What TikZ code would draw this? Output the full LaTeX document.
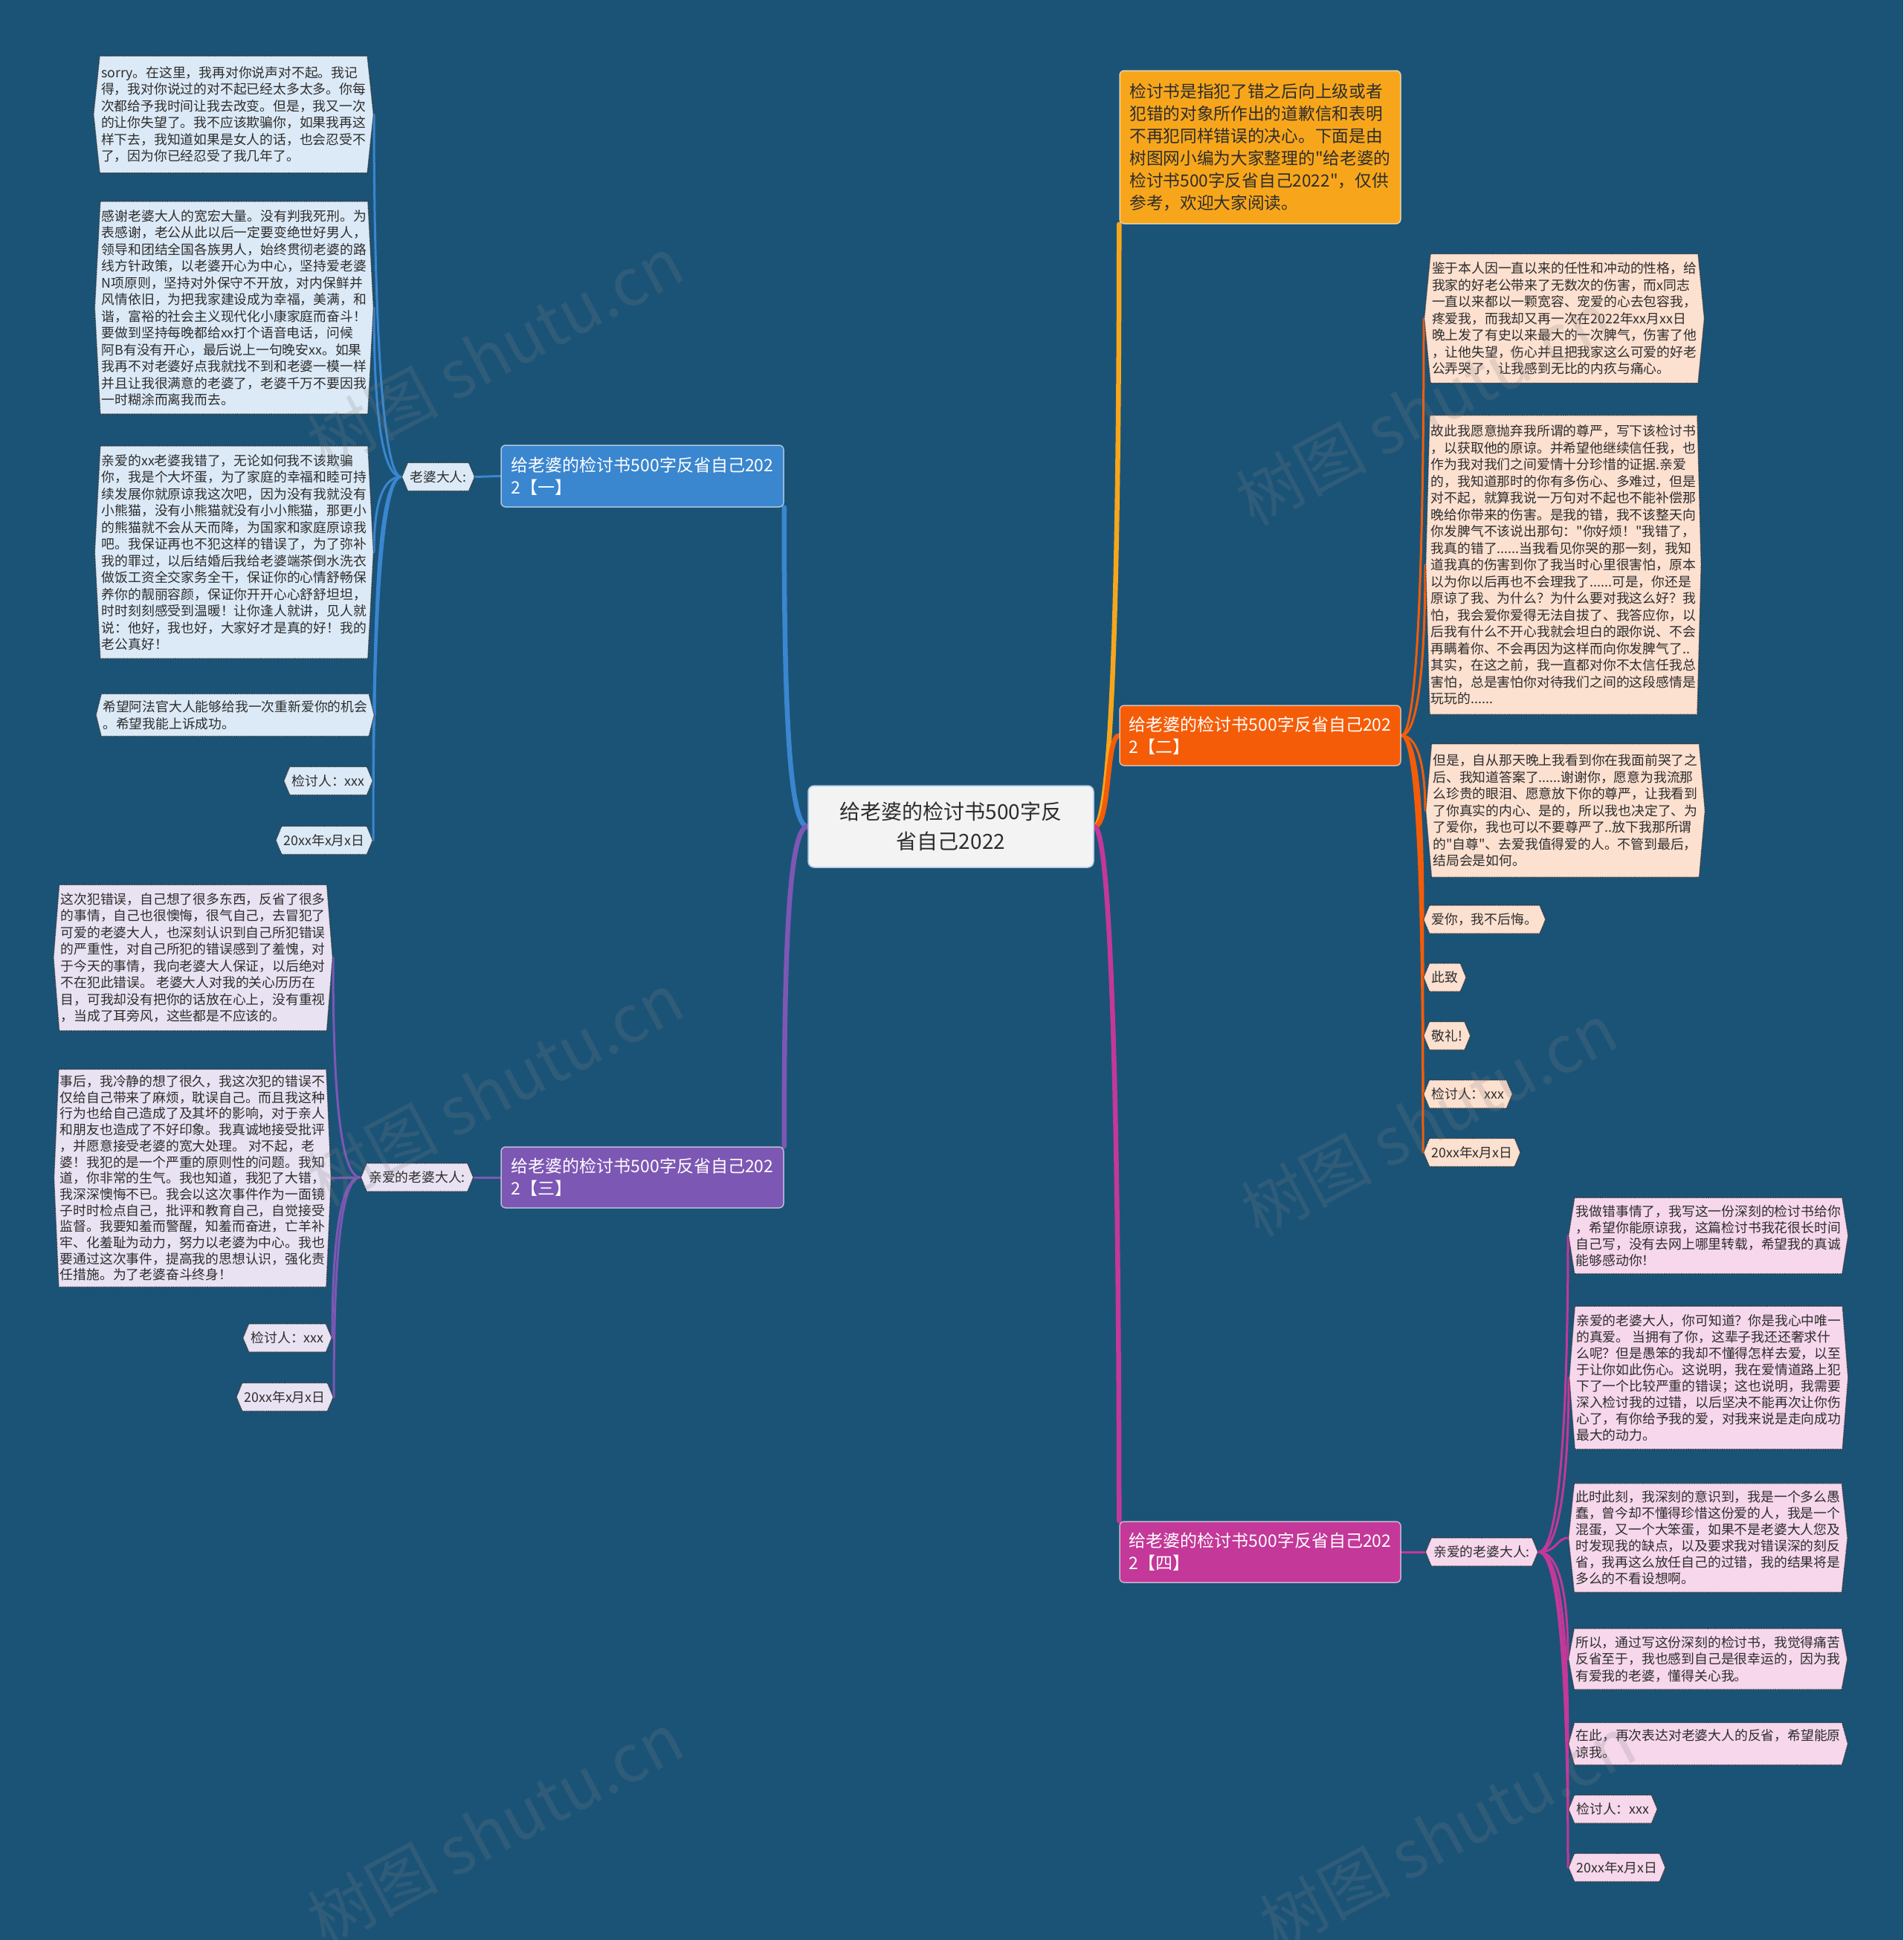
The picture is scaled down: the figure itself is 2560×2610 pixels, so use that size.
\documentclass[tikz,border=0pt]{standalone}
\usepackage{fontspec}
\setmainfont{Noto Sans CJK SC}[Ligatures=TeXOff]
\usetikzlibrary{shapes.symbols}
\pgfdeclarelayer{back}\pgfdeclarelayer{lines}
\pgfsetlayers{back,lines,main}
\definecolor{bg}{RGB}{27,83,119}
\definecolor{cblue}{RGB}{58,134,207}
\definecolor{lblue}{RGB}{220,234,247}
\definecolor{cyel}{RGB}{247,166,27}
\definecolor{cora}{RGB}{245,92,8}
\definecolor{lora}{RGB}{252,224,208}
\definecolor{cpur}{RGB}{125,87,180}
\definecolor{lpur}{RGB}{232,226,242}
\definecolor{cmag}{RGB}{195,56,152}
\definecolor{lmag}{RGB}{246,215,236}
\definecolor{ctr}{RGB}{243,243,243}
\definecolor{cbord}{RGB}{170,200,225}
\definecolor{txt}{RGB}{45,45,45}
\begin{document}
\begin{tikzpicture}[x=1pt,y=-1pt,
  leaf/.style={signal, signal to=east and west, signal pointer angle=#1, draw=txt, densely dotted, line width=1.3pt, text=txt, align=left, inner xsep=2pt, inner ysep=11pt, font=\fontsize{17.8}{22.5}\selectfont},
  small/.style={leaf=135, minimum height=38pt, inner ysep=6pt, inner xsep=3pt},
  br/.style={rectangle, rounded corners=6pt, fill=#1, draw=white, draw opacity=0.6, line width=1.5pt, text=white, align=left, minimum width=380pt, minimum height=83pt, inner xsep=10pt, font=\fontsize{23}{30}\selectfont},
  mainc/.style={line width=6.5pt, line cap=round},
  subc/.style={line width=3pt, line cap=round},
  wm/.style={rotate=28, text=gray, opacity=0.2, font=\fontsize{88}{88}\selectfont}
]
\begin{pgfonlayer}{back}
\fill[bg] (0,0) rectangle (2560,2610);
\end{pgfonlayer}
\useasboundingbox (0,0) rectangle (2560,2610);

% centre
\node[rectangle, rounded corners=8pt, fill=ctr, draw=cbord, line width=1.5pt, text=txt, align=center, minimum width=384pt, minimum height=110pt, font=\fontsize{28}{40}\selectfont] (c) at (1279,1112) {给老婆的检讨书500字反\\省自己2022};

% branches
\node[br=cblue] (b1) at (864,640.5) {给老婆的检讨书500字反省自己202\\2【一】};
\node[br=cora, minimum width=378pt, minimum height=81pt] (b2) at (1695,989.5) {给老婆的检讨书500字反省自己202\\2【二】};
\node[br=cpur, minimum height=82pt] (b3) at (864,1584) {给老婆的检讨书500字反省自己202\\2【三】};
\node[br=cmag, minimum width=378pt, minimum height=82pt] (b4) at (1695,2088) {给老婆的检讨书500字反省自己202\\2【四】};
\node[rectangle, rounded corners=6pt, fill=cyel, draw=white, draw opacity=0.6, line width=1.5pt, text=txt, align=left, minimum width=378pt, minimum height=206pt, font=\fontsize{22.7}{30}\selectfont] (sum) at (1695,198) {检讨书是指犯了错之后向上级或者\\犯错的对象所作出的道歉信和表明\\不再犯同样错误的决心。下面是由\\树图网小编为大家整理的"给老婆的\\检讨书500字反省自己2022"，仅供\\参考，欢迎大家阅读。};

% labels
\node[small, fill=lblue] (lab1) at (589.5,641.5) {老婆大人:};
\node[small, fill=lpur] (lab3) at (561,1584) {亲爱的老婆大人:};
\node[small, fill=lmag] (lab4) at (1993,2088) {亲爱的老婆大人:};

% branch 1 leaves
\node[leaf=168, fill=lblue, anchor=east, inner ysep=14pt] (L1) at (503,154) {sorry。在这里，我再对你说声对不起。我记\\得，我对你说过的对不起已经太多太多。你每\\次都给予我时间让我去改变。但是，我又一次\\的让你失望了。我不应该欺骗你，如果我再这\\样下去，我知道如果是女人的话，也会忍受不\\了，因为你已经忍受了我几年了。};
\node[leaf=174, fill=lblue, anchor=east] (L2) at (503,414) {感谢老婆大人的宽宏大量。没有判我死刑。为\\表感谢，老公从此以后一定要变绝世好男人，\\领导和团结全国各族男人，始终贯彻老婆的路\\线方针政策，以老婆开心为中心，坚持爱老婆\\N项原则，坚持对外保守不开放，对内保鲜并\\风情依旧，为把我家建设成为幸福，美满，和\\谐，富裕的社会主义现代化小康家庭而奋斗！\\要做到坚持每晚都给xx打个语音电话，问候\\阿B有没有开心，最后说上一句晚安xx。如果\\我再不对老婆好点我就找不到和老婆一模一样\\并且让我很满意的老婆了，老婆千万不要因我\\一时糊涂而离我而去。};
\node[leaf=174, fill=lblue, anchor=east] (L3) at (503,743) {亲爱的xx老婆我错了，无论如何我不该欺骗\\你，我是个大坏蛋，为了家庭的幸福和睦可持\\续发展你就原谅我这次吧，因为没有我就没有\\小熊猫，没有小熊猫就没有小小熊猫，那更小\\的熊猫就不会从天而降，为国家和家庭原谅我\\吧。我保证再也不犯这样的错误了，为了弥补\\我的罪过，以后结婚后我给老婆端茶倒水洗衣\\做饭工资全交家务全干，保证你的心情舒畅保\\养你的靓丽容颜，保证你开开心心舒舒坦坦，\\时时刻刻感受到温暖！让你逢人就讲，见人就\\说：他好，我也好，大家好才是真的好！我的\\老公真好！};
\node[leaf=152, fill=lblue, anchor=east, inner ysep=9pt] (L4) at (504,962) {希望阿法官大人能够给我一次重新爱你的机会\\。希望我能上诉成功。};
\node[small, fill=lblue, anchor=east] (L5) at (502,1050.5) {检讨人：xxx};
\node[small, fill=lblue, anchor=east] (L6) at (502,1130.5) {20xx年x月x日};

% branch 2 leaves
\node[leaf=169, fill=lora, anchor=west] (R1) at (1915,428.5) {鉴于本人因一直以来的任性和冲动的性格，给\\我家的好老公带来了无数次的伤害，而x同志\\一直以来都以一颗宽容、宠爱的心去包容我，\\疼爱我，而我却又再一次在2022年xx月xx日\\晚上发了有史以来最大的一次脾气，伤害了他\\，让他失望，伤心并且把我家这么可爱的好老\\公弄哭了，让我感到无比的内疚与痛心。};
\node[leaf=177, fill=lora, anchor=west, inner ysep=13pt] (R2) at (1917,760) {故此我愿意抛弃我所谓的尊严，写下该检讨书\\，以获取他的原谅。并希望他继续信任我，也\\作为我对我们之间爱情十分珍惜的证据.亲爱\\的，我知道那时的你有多伤心、多难过，但是\\对不起，就算我说一万句对不起也不能补偿那\\晚给你带来的伤害。是我的错，我不该整天向\\你发脾气不该说出那句："你好烦！"我错了，\\我真的错了......当我看见你哭的那一刻，我知\\道我真的伤害到你了我当时心里很害怕，原本\\以为你以后再也不会理我了......可是，你还是\\原谅了我、为什么？为什么要对我这么好？我\\怕，我会爱你爱得无法自拔了、我答应你，以\\后我有什么不开心我就会坦白的跟你说、不会\\再瞒着你、不会再因为这样而向你发脾气了..\\其实，在这之前，我一直都对你不太信任我总\\害怕，总是害怕你对待我们之间的这段感情是\\玩玩的......};
\node[leaf=170, fill=lora, anchor=west, inner ysep=14pt] (R3) at (1917,1090.5) {但是，自从那天晚上我看到你在我面前哭了之\\后、我知道答案了......谢谢你，愿意为我流那\\么珍贵的眼泪、愿意放下你的尊严，让我看到\\了你真实的内心、是的，所以我也决定了、为\\了爱你，我也可以不要尊严了..放下我那所谓\\的"自尊"、去爱我值得爱的人。不管到最后，\\结局会是如何。};
\node[small, fill=lora, anchor=west] (R4) at (1914,1237) {爱你，我不后悔。};
\node[small, fill=lora, anchor=west] (R5) at (1914,1315) {此致};
\node[small, fill=lora, anchor=west] (R6) at (1914,1393.5) {敬礼!};
\node[small, fill=lora, anchor=west] (R7) at (1914,1472) {检讨人：xxx};
\node[small, fill=lora, anchor=west] (R8) at (1914,1550.5) {20xx年x月x日};

% branch 3 leaves
\node[leaf=171, fill=lpur, anchor=east] (P1) at (448,1288.5) {这次犯错误，自己想了很多东西，反省了很多\\的事情，自己也很懊悔，很气自己，去冒犯了\\可爱的老婆大人，也深刻认识到自己所犯错误\\的严重性，对自己所犯的错误感到了羞愧，对\\于今天的事情，我向老婆大人保证，以后绝对\\不在犯此错误。 老婆大人对我的关心历历在\\目，可我却没有把你的话放在心上，没有重视\\，当成了耳旁风，这些都是不应该的。};
\node[leaf=175, fill=lpur, anchor=east, inner ysep=8pt, font=\fontsize{17.8}{21.7}\selectfont] (P2) at (446,1585) {事后，我冷静的想了很久，我这次犯的错误不\\仅给自己带来了麻烦，耽误自己。而且我这种\\行为也给自己造成了及其坏的影响，对于亲人\\和朋友也造成了不好印象。我真诚地接受批评\\，并愿意接受老婆的宽大处理。 对不起，老\\婆！我犯的是一个严重的原则性的问题。我知\\道，你非常的生气。我也知道，我犯了大错，\\我深深懊悔不已。我会以这次事件作为一面镜\\子时时检点自己，批评和教育自己，自觉接受\\监督。我要知羞而警醒，知羞而奋进，亡羊补\\牢、化羞耻为动力，努力以老婆为中心。我也\\要通过这次事件，提高我的思想认识，强化责\\任措施。为了老婆奋斗终身！};
\node[small, fill=lpur, anchor=east] (P3) at (447,1800) {检讨人：xxx};
\node[small, fill=lpur, anchor=east] (P4) at (449,1879.5) {20xx年x月x日};

% branch 4 leaves
\node[leaf=162, fill=lmag, anchor=west, inner ysep=10pt, font=\fontsize{17.8}{22}\selectfont] (M1) at (2109,1662.5) {我做错事情了，我写这一份深刻的检讨书给你\\，希望你能原谅我，这篇检讨书我花很长时间\\自己写，没有去网上哪里转载，希望我的真诚\\能够感动你！};
\node[leaf=171, fill=lmag, anchor=west, font=\fontsize{17.8}{22}\selectfont] (M2) at (2110,1853.5) {亲爱的老婆大人，你可知道？你是我心中唯一\\的真爱。 当拥有了你，这辈子我还还奢求什\\么呢？但是愚笨的我却不懂得怎样去爱，以至\\于让你如此伤心。这说明，我在爱情道路上犯\\下了一个比较严重的错误；这也说明，我需要\\深入检讨我的过错，以后坚决不能再次让你伤\\心了，有你给予我的爱，对我来说是走向成功\\最大的动力。};
\node[leaf=168, fill=lmag, anchor=west, inner ysep=10pt, font=\fontsize{17.8}{22}\selectfont] (M3) at (2109,2069) {此时此刻，我深刻的意识到，我是一个多么愚\\蠢，曾今却不懂得珍惜这份爱的人，我是一个\\混蛋，又一个大笨蛋，如果不是老婆大人您及\\时发现我的缺点，以及要求我对错误深的刻反\\省，我再这么放任自己的过错，我的结果将是\\多么的不看设想啊。};
\node[leaf=159, fill=lmag, anchor=west, inner ysep=10pt] (M4) at (2109,2232) {所以，通过写这份深刻的检讨书，我觉得痛苦\\反省至于，我也感到自己是很幸运的，因为我\\有爱我的老婆，懂得关心我。};
\node[leaf=149, fill=lmag, anchor=west, inner ysep=9pt] (M5) at (2109,2346) {在此，再次表达对老婆大人的反省，希望能原\\谅我。};
\node[small, fill=lmag, anchor=west] (M6) at (2109,2434) {检讨人：xxx};
\node[small, fill=lmag, anchor=west] (M7) at (2109,2512.5) {20xx年x月x日};

\begin{pgfonlayer}{lines}
% main connectors
\draw[mainc, cblue] (c.west) .. controls +(-28,0) and +(0,220) .. (b1.south east);
\draw[mainc, cpur] (c.west) .. controls +(-28,0) and +(0,-220) .. (b3.north east);
\draw[mainc, cyel] (c.east) .. controls +(28,0) and +(0,350) .. (sum.south west);
\draw[mainc, cora] (c.east) .. controls +(22,0) and +(-18,0) .. (b2.west);
\draw[mainc, cmag] (c.east) .. controls +(28,0) and +(0,-350) .. (b4.north west);
% branch 1
\draw[subc, cblue] (b1.west) -- (lab1.east);
\draw[subc, cblue] (lab1.west) .. controls +(-30,0) and +(0,200) .. (L1.east);
\draw[subc, cblue] (lab1.west) .. controls +(-30,0) and +(0,110) .. (L2.east);
\draw[subc, cblue] (lab1.west) .. controls +(-30,0) and +(0,-50) .. (L3.east);
\draw[subc, cblue] (lab1.west) .. controls +(-30,0) and +(0,-150) .. (L4.east);
\draw[subc, cblue] (lab1.west) .. controls +(-30,0) and +(0,-200) .. (L5.east);
\draw[subc, cblue] (lab1.west) .. controls +(-30,0) and +(0,-240) .. (L6.east);
% branch 2
\draw[subc, cora] (b2.east) .. controls +(25,0) and +(0,250) .. (R1.west);
\draw[subc, cora] (b2.east) .. controls +(25,0) and +(0,110) .. (R2.west);
\draw[subc, cora] (b2.east) .. controls +(25,0) and +(0,-50) .. (R3.west);
\draw[subc, cora] (b2.east) .. controls +(25,0) and +(0,-120) .. (R4.west);
\draw[subc, cora] (b2.east) .. controls +(25,0) and +(0,-160) .. (R5.west);
\draw[subc, cora] (b2.east) .. controls +(25,0) and +(0,-200) .. (R6.west);
\draw[subc, cora] (b2.east) .. controls +(25,0) and +(0,-240) .. (R7.west);
\draw[subc, cora] (b2.east) .. controls +(25,0) and +(0,-280) .. (R8.west);
% branch 3
\draw[subc, cpur] (b3.west) -- (lab3.east);
\draw[subc, cpur] (lab3.west) .. controls +(-30,0) and +(0,150) .. (P1.east);
\draw[subc, cpur] (lab3.west) .. controls +(-20,0) and +(20,0) .. (P2.east);
\draw[subc, cpur] (lab3.west) .. controls +(-30,0) and +(0,-110) .. (P3.east);
\draw[subc, cpur] (lab3.west) .. controls +(-30,0) and +(0,-150) .. (P4.east);
% branch 4
\draw[subc, cmag] (b4.east) -- (lab4.west);
\draw[subc, cmag] (lab4.east) .. controls +(30,0) and +(0,220) .. (M1.west);
\draw[subc, cmag] (lab4.east) .. controls +(30,0) and +(0,120) .. (M2.west);
\draw[subc, cmag] (lab4.east) .. controls +(25,0) and +(-15,0) .. (M3.west);
\draw[subc, cmag] (lab4.east) .. controls +(30,0) and +(0,-80) .. (M4.west);
\draw[subc, cmag] (lab4.east) .. controls +(30,0) and +(0,-140) .. (M5.west);
\draw[subc, cmag] (lab4.east) .. controls +(30,0) and +(0,-180) .. (M6.west);
\draw[subc, cmag] (lab4.east) .. controls +(30,0) and +(0,-220) .. (M7.west);
\end{pgfonlayer}

% watermarks
\node[wm] (wm1) at (666,474) {树图 shutu.cn};
\node[wm] (wm2) at (666,1465) {树图 shutu.cn};
\node[wm] (wm3) at (666,2460) {树图 shutu.cn};
\node[wm] (wm4) at (1915,549) {树图 shutu.cn};
\node[wm] (wm5) at (1922,1506) {树图 shutu.cn};
\node[wm] (wm6) at (1947,2465) {树图 shutu.cn};
\end{tikzpicture}
\end{document}
